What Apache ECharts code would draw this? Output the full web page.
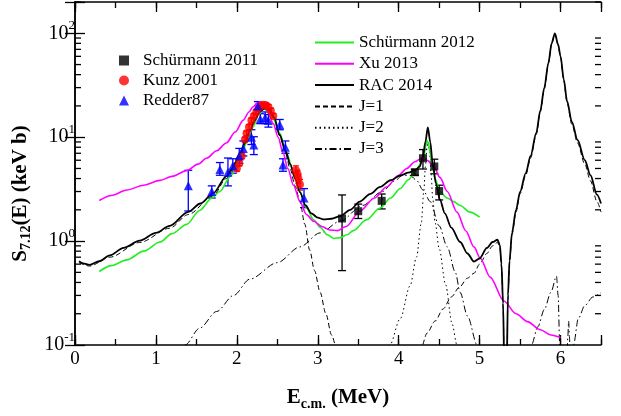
<!DOCTYPE html>
<html>
<head>
<meta charset="utf-8">
<script src="https://cdn.jsdelivr.net/npm/echarts@6/dist/echarts.min.js"></script>
<style>
  html, body { margin: 0; padding: 0; background: #fff; }
  #chart { width: 621px; height: 416px; }
</style>
</head>
<body>
<div id="chart"></div>
<script>
const F = 'Liberation Serif'
const xMin = 0, xMax = 6.5
const yMin = 0.1, yMax = 200

// RAC 2014 (total)
const rac = [[0.05,0.64],[0.10,0.61],[0.18,0.59],[0.30,0.64],[0.43,0.73],[0.60,0.86],[0.80,1.01],[1.00,1.20],[1.17,1.40],[1.40,1.91],[1.55,2.3],[1.71,2.9],[1.87,4.2],[1.95,5.1],[2.04,7.0],[2.10,8.8],[2.16,11.5],[2.22,14.5],[2.28,17.5],[2.35,19.1],[2.40,18.5],[2.46,15.5],[2.53,10.5],[2.60,7.4],[2.66,5.5],[2.72,4.0],[2.78,2.95],[2.85,2.2],[2.92,1.85],[3.00,1.68],[3.07,1.62],[3.17,1.64],[3.28,1.74],[3.40,2.0],[3.52,2.40],[3.65,2.85],[3.77,3.32],[3.90,3.85],[4.02,4.28],[4.12,4.55],[4.20,4.8],[4.26,5.2],[4.30,6.5],[4.33,9.0],[4.36,12.4],[4.39,9.0],[4.42,5.5],[4.46,3.6],[4.51,2.5],[4.57,1.85],[4.65,1.35],[4.76,0.98],[4.85,0.76],[4.93,0.635],[5.00,0.68],[5.09,0.86],[5.16,0.98],[5.22,1.03],[5.25,0.92],[5.27,0.6],[5.29,0.25],[5.305,0.06],[5.32,0.002],[5.335,0.06],[5.35,0.3],[5.37,0.65],[5.40,1.2],[5.45,2.0],[5.50,2.98],[5.57,4.5],[5.63,6.6],[5.70,11],[5.75,18],[5.80,30],[5.85,52],[5.89,80],[5.93,100],[5.97,78],[6.00,60],[6.04,36],[6.08,22.4],[6.14,14],[6.21,9.4],[6.30,6.0],[6.37,4.3],[6.45,2.8],[6.50,2.3]]

// J=1 partial
const j1 = [[0.05,0.62],[0.18,0.575],[0.43,0.70],[0.80,0.97],[1.17,1.33],[1.40,1.80],[1.71,2.75],[1.87,4.0],[2.04,6.8],[2.16,11.2],[2.28,17.2],[2.35,18.8],[2.40,18.2],[2.46,15.2],[2.53,10.3],[2.60,7.0],[2.66,4.9],[2.72,3.4],[2.78,2.4],[2.84,1.45],[2.90,0.82],[2.96,0.52],[3.03,0.32],[3.10,0.2],[3.17,0.125],[3.23,0.095],[3.70,0.005],[4.28,0.095],[4.35,0.13],[4.45,0.17],[4.55,0.223],[4.65,0.29],[4.75,0.36],[4.85,0.44],[4.93,0.49],[5.00,0.6],[5.09,0.76],[5.16,0.9],[5.22,0.97],[5.25,0.88],[5.27,0.57],[5.29,0.24],[5.305,0.06],[5.32,0.002],[5.335,0.06],[5.35,0.28],[5.37,0.62],[5.40,1.15],[5.45,1.9],[5.50,2.85],[5.57,4.3],[5.63,6.3],[5.70,10.6],[5.75,17.5],[5.80,29],[5.85,51],[5.89,79],[5.93,99],[5.97,77],[6.00,59],[6.04,35],[6.08,21.5],[6.14,13.3],[6.21,8.8],[6.30,5.5],[6.37,3.8],[6.45,2.4],[6.50,1.9]]

// J=2 partial
const j2 = [[3.70,0.01],[3.89,0.1],[4.02,0.18],[4.14,0.37],[4.22,0.7],[4.28,1.5],[4.31,3.0],[4.33,5.2],[4.35,8.0],[4.365,9.0],[4.38,7.5],[4.40,4.5],[4.42,2.6],[4.45,1.5],[4.50,0.85],[4.58,0.38],[4.66,0.16],[4.72,0.1],[4.85,0.01]]

// J=3 partial
const j3 = [[1.20,0.04],[1.36,0.1],[1.54,0.145],[1.75,0.21],[1.96,0.30],[2.16,0.43],[2.50,0.62],[2.78,0.88],[3.03,1.2],[3.28,1.56],[3.55,2.2],[3.80,3.0],[3.95,3.8],[4.05,4.3],[4.14,4.3],[4.22,3.85],[4.30,3.1],[4.39,2.4],[4.50,1.4],[4.60,0.88],[4.70,0.5],[4.76,0.32],[4.85,0.19],[4.97,0.1],[5.30,0.01],[5.64,0.1],[5.72,0.15],[5.80,0.22],[5.88,0.32],[5.95,0.46],[5.97,0.3],[5.99,0.1],[6.01,0.01],[6.06,0.01],[6.09,0.12],[6.10,0.17],[6.11,0.12],[6.13,0.02],[6.16,0.1],[6.22,0.18],[6.30,0.24],[6.40,0.29],[6.50,0.32]]

// Schürmann 2012
const schur12 = [[0.30,0.51],[0.45,0.58],[0.64,0.66],[0.85,0.8],[1.05,0.98],[1.20,1.18],[1.38,1.45],[1.54,1.97],[1.69,2.59],[1.79,3.0],[1.92,4.2],[2.04,6.1],[2.12,8.8],[2.20,12.6],[2.27,16.5],[2.33,18.7],[2.38,18.0],[2.45,15.0],[2.53,10.9],[2.61,7.2],[2.70,4.6],[2.78,3.0],[2.86,2.08],[2.95,1.6],[3.03,1.35],[3.12,1.15],[3.20,1.06],[3.28,1.08],[3.36,1.15],[3.44,1.26],[3.60,1.6],[3.77,2.08],[3.90,2.6],[4.02,3.21],[4.12,3.9],[4.22,4.9],[4.28,5.7],[4.31,6.3],[4.33,8.0],[4.35,9.3],[4.37,8.5],[4.39,7.0],[4.41,5.7],[4.45,4.0],[4.51,2.98],[4.60,2.6],[4.68,2.4],[4.76,2.2],[4.88,1.9],[5.00,1.7]]

// Xu 2013
const xu13 = [[0.30,2.46],[0.45,2.75],[0.64,3.10],[0.85,3.45],[1.05,3.84],[1.20,4.2],[1.38,4.77],[1.52,5.5],[1.63,6.3],[1.75,7.4],[1.87,8.8],[1.98,11.2],[2.08,14.6],[2.15,17.5],[2.20,19.6],[2.25,21.3],[2.29,21.9],[2.33,21],[2.38,18],[2.45,13.5],[2.51,10],[2.57,7.1],[2.63,5.0],[2.70,3.45],[2.78,2.4],[2.86,1.8],[2.95,1.55],[3.05,1.38],[3.15,1.28],[3.24,1.26],[3.35,1.38],[3.52,1.94],[3.70,2.6],[3.85,3.32],[4.00,4.3],[4.10,5.0],[4.20,5.8],[4.27,6.2],[4.35,6.0],[4.43,5.3],[4.51,4.1],[4.60,3.0],[4.72,1.9],[4.83,1.25],[4.93,0.88],[5.01,0.68],[5.13,0.45],[5.30,0.265],[5.45,0.2],[5.59,0.168],[5.75,0.14],[5.88,0.125],[6.00,0.118]]

// data points: energy, S, error low, error high
const schurE  = [3.30, 3.50, 3.79, 4.20, 4.30, 4.44, 4.50]
const schurS  = [1.65, 1.94, 2.44, 4.60, 6.27, 5.23, 3.03]
const schurLo = [0.52, 1.65, 2.04, 4.30, 4.94, 4.44, 2.49]
const schurHi = [2.78, 2.27, 2.84, 4.90, 7.60, 6.14, 3.45]

const kunzE  = [2.00, 2.03, 2.06, 2.10, 2.12, 2.15, 2.18, 2.21, 2.24, 2.27, 2.30, 2.33, 2.36, 2.39, 2.42, 2.45, 2.73, 2.75, 2.76, 2.78]
const kunzS  = [5.0, 5.6, 6.6, 9.5, 10.9, 12.5, 14.5, 16.0, 17.5, 19.0, 20.0, 20.5, 20.3, 19.5, 18.0, 16.0, 4.8, 4.4, 4.0, 3.5]
const kunzLo = [4.7, 5.3, 6.2, 9.0, 10.3, 11.8, 13.7, 15.1, 16.5, 17.9, 18.9, 19.4, 19.2, 18.4, 17.0, 15.1, 4.3, 4.0, 3.6, 3.1]
const kunzHi = [5.3, 5.9, 7.0, 10.0, 11.5, 13.2, 15.3, 16.9, 18.5, 20.1, 21.1, 21.6, 21.4, 20.6, 19.0, 16.9, 5.3, 4.8, 4.4, 3.9]

const redE  = [1.40, 1.69, 1.79, 1.89, 1.95, 2.03, 2.08, 2.18, 2.21, 2.26, 2.29, 2.35, 2.39, 2.53, 2.57, 2.60, 2.83]
const redS  = [3.4, 3.0, 4.9, 4.6, 5.3, 6.6, 7.8, 10.0, 8.4, 20.0, 15.0, 15.5, 14.5, 13.2, 5.4, 8.0, 2.6]
const redLo = [1.95, 2.6, 4.3, 3.4, 4.5, 5.6, 6.6, 8.5, 6.8, 18.0, 13.5, 13.5, 12.5, 11.8, 4.7, 7.0, 2.1]
const redHi = [4.8, 3.4, 5.7, 6.3, 6.2, 7.8, 9.2, 11.8, 10.1, 22.0, 16.8, 17.5, 16.5, 14.8, 6.2, 9.2, 3.2]

// log minor ticks
const yMinor = [0.2,0.3,0.4,0.5,0.6,0.7,0.8,0.9,2,3,4,5,6,7,8,9,20,30,40,50,60,70,80,90,200]

const zip = (a, b) => a.map((v, i) => [v, b[i]])
const zip3 = (a, b, c) => a.map((v, i) => [v, b[i], c[i]])

function errBar(color, cap) {
  return function (params, api) {
    const x = api.value(0)
    const lo = api.coord([x, api.value(1)])
    const hi = api.coord([x, api.value(2)])
    const st = { stroke: color, lineWidth: 1.3 }
    return {
      type: 'group',
      children: [
        { type: 'line', shape: { x1: lo[0], y1: lo[1], x2: hi[0], y2: hi[1] }, style: st },
        { type: 'line', shape: { x1: lo[0] - cap, y1: lo[1], x2: lo[0] + cap, y2: lo[1] }, style: st },
        { type: 'line', shape: { x1: hi[0] - cap, y1: hi[1], x2: hi[0] + cap, y2: hi[1] }, style: st }
      ]
    }
  }
}

const chart = echarts.init(document.getElementById('chart'))

const lineBase = { type: 'line', symbol: 'none', smooth: 0.3, smoothMonotone: 'x', clip: true, animation: false }

const axLine = { lineStyle: { color: '#000', width: 1.5 } }
const legendText = { fontFamily: F, fontSize: 17, color: '#000' }

chart.setOption({
  animation: false,
  grid: { left: 75, right: 20, top: 2, bottom: 62 },
  legend: [{
    data: ['Schürmann 2011', 'Kunz 2001', 'Redder87'],
    orient: 'vertical', left: 119, top: 52, padding: 0,
    itemWidth: 10, itemHeight: 10, itemGap: 3,
    textStyle: Object.assign({ padding: [0, 0, 0, 9] }, legendText)
  }, {
    data: ['Schürmann 2012', 'Xu 2013', 'RAC 2014', 'J=1', 'J=2', 'J=3'],
    orient: 'vertical', left: 314, top: 34, padding: 0,
    itemWidth: 39, itemHeight: 14, itemGap: 4.3,
    itemStyle: { opacity: 0 },
    textStyle: legendText
  }],
  xAxis: [{
    type: 'value', min: xMin, max: xMax, interval: 1, position: 'bottom',
    axisLine: axLine,
    axisTick: { inside: true, length: 10, lineStyle: { color: '#000', width: 1.3 } },
    splitLine: { show: false },
    axisLabel: {
      fontFamily: F, fontSize: 19, color: '#000', margin: 5,
      formatter: v => (Number.isInteger(v) ? String(v) : '')
    },
    name: '{b|E}{s|c.m.}{b| (MeV)}',
    nameLocation: 'middle', nameGap: 40,
    nameTextStyle: {
      rich: {
        b: { fontFamily: F, fontSize: 21, fontWeight: 'bold', color: '#000', lineHeight: 26 },
        s: { fontFamily: F, fontSize: 14, fontWeight: 'bold', color: '#000', lineHeight: 14, verticalAlign: 'bottom' }
      }
    }
  }, {
    type: 'value', min: xMin, max: xMax, interval: 0.5, position: 'bottom',
    axisLine: { show: false },
    axisTick: { inside: true, length: 6, lineStyle: { color: '#000', width: 1.3 } },
    axisLabel: { show: false }, splitLine: { show: false }
  }, {
    type: 'value', min: xMin, max: xMax, interval: 1, position: 'top',
    axisLine: axLine,
    axisTick: { inside: true, length: 10, lineStyle: { color: '#000', width: 1.3 } },
    axisLabel: { show: false }, splitLine: { show: false }
  }, {
    type: 'value', min: xMin, max: xMax, interval: 0.5, position: 'top',
    axisLine: { show: false },
    axisTick: { inside: true, length: 6, lineStyle: { color: '#000', width: 1.3 } },
    axisLabel: { show: false }, splitLine: { show: false }
  }],
  yAxis: [{
    type: 'log', logBase: 10, min: yMin, max: yMax, position: 'left',
    axisLine: axLine,
    axisTick: { inside: true, length: 10, lineStyle: { color: '#000', width: 1.3 } },
    splitLine: { show: false },
    axisLabel: {
      margin: 0,
      formatter: v => {
        const e = Math.log10(v)
        const r = Math.round(e)
        if (Math.abs(e - r) > 1e-6) return ''
        return '{b|10}{s|' + r + '}'
      },
      rich: {
        b: { fontFamily: F, fontSize: 20, color: '#000', lineHeight: 28 },
        s: { fontFamily: F, fontSize: 13, color: '#000', lineHeight: 13, verticalAlign: 'top' }
      }
    },
    name: '{b|S}{s|7.12}{b|(E) (keV b)}',
    nameLocation: 'middle', nameGap: 36,
    nameTextStyle: {
      padding: [0, 40, 0, 0],
      rich: {
        b: { fontFamily: F, fontSize: 21, fontWeight: 'bold', color: '#000', lineHeight: 26 },
        s: { fontFamily: F, fontSize: 14, fontWeight: 'bold', color: '#000', lineHeight: 14, verticalAlign: 'bottom' }
      }
    }
  }, {
    type: 'log', logBase: 10, min: yMin, max: yMax, position: 'right',
    axisLine: axLine,
    axisTick: { inside: true, length: 10, lineStyle: { color: '#000', width: 1.3 } },
    axisLabel: { show: false }, splitLine: { show: false }
  }],
  series: [
    {
      name: 'minor', type: 'custom', silent: true, clip: false,
      data: yMinor.map(v => [v]),
      encode: { y: 0 },
      renderItem: (params, api) => {
        const v = api.value(0)
        const l = api.coord([xMin, v])
        const r = api.coord([xMax, v])
        const st = { stroke: '#000', lineWidth: 1.3 }
        return {
          type: 'group', children: [
            { type: 'line', shape: { x1: l[0], y1: l[1], x2: l[0] + 6, y2: l[1] }, style: st },
            { type: 'line', shape: { x1: r[0] - 6, y1: r[1], x2: r[0], y2: r[1] }, style: st }
          ]
        }
      }
    },
    Object.assign({}, lineBase, { name: 'J=1', data: j1, lineStyle: { color: '#000', width: 1, type: [5, 3] }, itemStyle: { color: '#000' } }),
    Object.assign({}, lineBase, { name: 'J=2', data: j2, lineStyle: { color: '#000', width: 1, type: [1.5, 3] }, itemStyle: { color: '#000' } }),
    Object.assign({}, lineBase, { name: 'J=3', data: j3, lineStyle: { color: '#000', width: 1, type: [7, 3, 1.5, 3] }, itemStyle: { color: '#000' } }),
    Object.assign({}, lineBase, { name: 'Schürmann 2012', data: schur12, lineStyle: { color: '#22ee22', width: 1.6 }, itemStyle: { color: '#22ee22' } }),
    Object.assign({}, lineBase, { name: 'Xu 2013', data: xu13, lineStyle: { color: '#ff00ff', width: 1.6 }, itemStyle: { color: '#ff00ff' } }),
    Object.assign({}, lineBase, { name: 'RAC 2014', data: rac, lineStyle: { color: '#000', width: 1.8 }, itemStyle: { color: '#000' } }),
    {
      name: 'schurErr', type: 'custom', data: zip3(schurE, schurLo, schurHi),
      encode: { x: 0, y: [1, 2] }, renderItem: errBar('#000', 4), z: 3
    },
    {
      name: 'kunzErr', type: 'custom', data: zip3(kunzE, kunzLo, kunzHi),
      encode: { x: 0, y: [1, 2] }, renderItem: errBar('#ff0000', 3), z: 3
    },
    {
      name: 'redErr', type: 'custom', data: zip3(redE, redLo, redHi),
      encode: { x: 0, y: [1, 2] }, renderItem: errBar('#0000ff', 4), z: 3
    },
    {
      name: 'Schürmann 2011', type: 'scatter', data: zip(schurE, schurS),
      symbol: 'rect', symbolSize: 8, itemStyle: { color: '#000' }, z: 4
    },
    {
      name: 'Kunz 2001', type: 'scatter', data: zip(kunzE, kunzS),
      symbol: 'circle', symbolSize: 8, itemStyle: { color: '#ff0000' }, z: 4
    },
    {
      name: 'Redder87', type: 'scatter', data: zip(redE, redS),
      symbol: 'triangle', symbolSize: 9, itemStyle: { color: '#0000ff' }, z: 4
    }
  ]
})
</script>
</body>
</html>
